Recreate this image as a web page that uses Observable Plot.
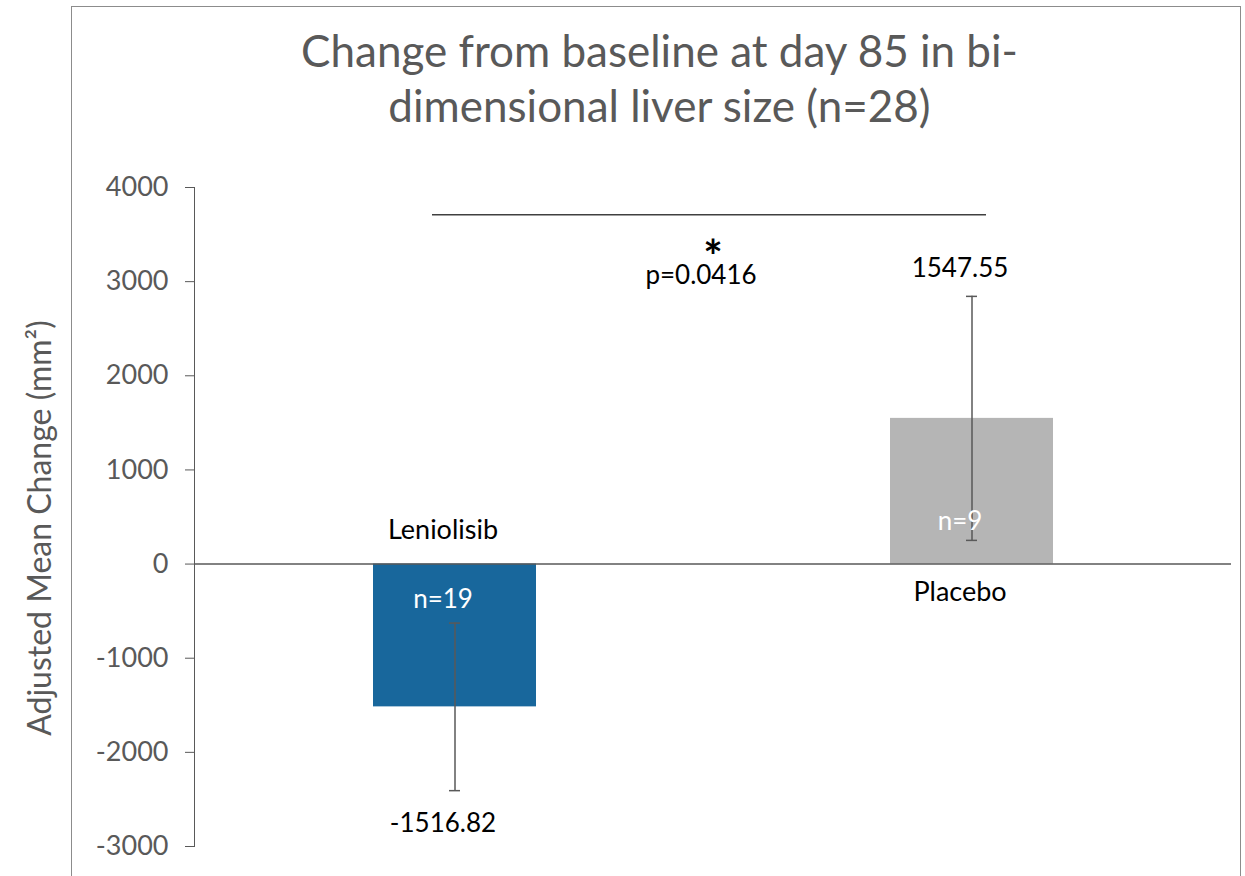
<!DOCTYPE html>
<html><head><meta charset="utf-8">
<script src="https://cdn.jsdelivr.net/npm/d3@7"></script>
<script src="https://cdn.jsdelivr.net/npm/@observablehq/plot@0.6"></script>
<style>
body{margin:0;width:1245px;height:876px;overflow:hidden;background:#fff;position:relative;font-family:Lato,sans-serif}
#frame{position:absolute;left:71px;top:6px;width:1168px;height:1000px;border:1.5px solid #8c8c8c;box-sizing:content-box}
#title{position:absolute;left:72px;width:1169px;top:22.5px;text-align:center;font-size:44px;color:#595959;line-height:55px;padding-left:6px;box-sizing:border-box}
#chart{position:absolute;left:0;top:150px}
</style></head><body>
<div id="frame"></div>
<div id="title">Change from baseline at day 85 in bi-<br>dimensional liver size (n=28)</div>
<div id="chart"></div>
<script>
const groups = ["Leniolisib", "Placebo"];
const means = [-1516.82, 1547.55];
const errors = [890, 1296];
const counts = [19, 9];
const valueLabels = ["-1516.82", "1547.55"];
const yTicks = [-3000, -2000, -1000, 0, 1000, 2000, 3000, 4000];
const barColors = ["#18679c", "#b5b5b5"];
const pValueLabel = "p=0.0416";
const bracketValue = 3710;
const yLabel = "Adjusted Mean Change (mm²)";

const data = groups.map((g, i) => ({
  group: g, mean: means[i], lo: means[i] - errors[i], hi: means[i] + errors[i],
  n: "n=" + counts[i], label: valueLabels[i]
}));
const neg = data.filter(d => d.mean < 0);
const pos = data.filter(d => d.mean >= 0);
const bracket = [{a: groups[0], b: groups[1], y: bracketValue}];
const grey = "#595959";
const lx = -12;

const chart = Plot.plot({
  width: 1245, height: 726,
  marginTop: 37, marginBottom: 30, marginLeft: 194, marginRight: 14,
  style: {fontFamily: "Lato, sans-serif", fontSize: "27px", color: grey, background: "transparent"},
  x: {domain: groups, paddingInner: 0.685, paddingOuter: 0.344, axis: null},
  y: {domain: [-3000, 4000], ticks: yTicks, tickFormat: d => String(d), tickSize: 9, tickPadding: 17, line: true, label: null},
  color: {domain: groups, range: barColors},
  marks: [
    Plot.barY(data, {x: "group", y: "mean", fill: "group"}),
    Plot.ruleY([0], {stroke: grey, strokeWidth: 1.5}),
    Plot.ruleX(data, {x: "group", y1: "lo", y2: "hi", stroke: grey, strokeWidth: 1.5}),
    Plot.tickY(data, {x: "group", y: "lo", stroke: grey, strokeWidth: 1.5, insetLeft: 76, insetRight: 76}),
    Plot.tickY(data, {x: "group", y: "hi", stroke: grey, strokeWidth: 1.5, insetLeft: 76, insetRight: 76}),
    Plot.text(neg, {x: "group", y: () => 0, text: "n", dx: lx, dy: 36, fill: "white", fontSize: 26}),
    Plot.text(pos, {x: "group", y: () => 0, text: "n", dx: lx, dy: -42, fill: "white", fontSize: 26}),
    Plot.text(neg, {x: "group", y: "lo", text: "label", dx: lx, dy: 33, fill: "black", fontSize: 26}),
    Plot.text(pos, {x: "group", y: "hi", text: "label", dx: lx, dy: -28, fill: "black", fontSize: 26}),
    Plot.text(neg, {x: "group", y: () => 0, text: "group", dx: lx, dy: -34, fill: "black", fontSize: 27}),
    Plot.text(pos, {x: "group", y: () => 0, text: "group", dx: lx, dy: 28, fill: "black", fontSize: 27}),
    Plot.ruleY(bracket, {x1: "a", x2: "b", y: "y", insetLeft: 59, insetRight: 67, stroke: "#404040", strokeWidth: 1.5}),
    Plot.text(bracket, {y: "y", text: () => "*", frameAnchor: "middle", dy: 43, fontSize: 46, fontWeight: "bold", fill: "black"}),
    Plot.text(bracket, {y: "y", text: () => pValueLabel, frameAnchor: "middle", dx: lx, dy: 61, fontSize: 26, fill: "black"}),
    Plot.text([yLabel], {text: d => d, frameAnchor: "left", textAnchor: "middle", rotate: -90, dx: -154, dy: 11, fontSize: 32, fill: grey})
  ]
});
chart.style.overflow = "visible";
document.getElementById("chart").append(chart);
</script>
</body></html>
